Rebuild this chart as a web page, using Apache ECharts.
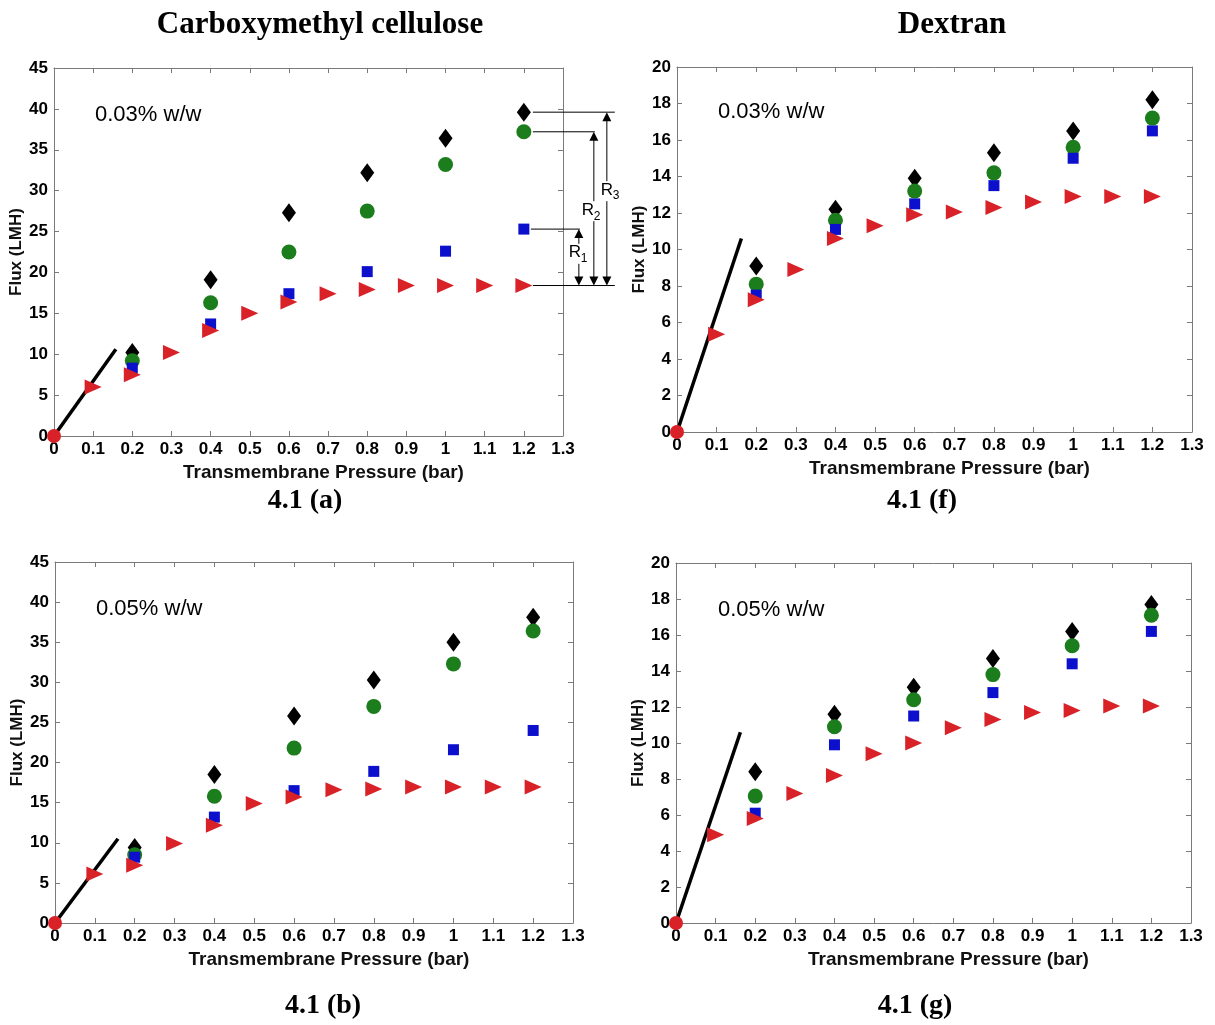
<!DOCTYPE html>
<html>
<head>
<meta charset="utf-8">
<script src="https://cdn.jsdelivr.net/npm/echarts@6/dist/echarts.min.js"></script>
<style>
html,body{margin:0;padding:0;background:#fff;}
#c{width:1215px;height:1025px;}
</style>
</head>
<body>
<div id="c"></div>
<script>
// ---------- DATA ----------
const pressureMain = [0.2, 0.4, 0.6, 0.8, 1.0, 1.2];
const pressureRed = [0.1, 0.2, 0.3, 0.4, 0.5, 0.6, 0.7, 0.8, 0.9, 1.0, 1.1, 1.2];

// 4.1 (a) Carboxymethyl cellulose 0.03% w/w
const aDiamond = [10.2, 19.1, 27.3, 32.2, 36.4, 39.6];
const aCircle = [9.2, 16.3, 22.5, 27.5, 33.2, 37.2];
const aSquare = [8.3, 13.7, 17.4, 20.1, 22.6, 25.3];
const aTriangle = [6.0, 7.5, 10.2, 12.9, 15.0, 16.4, 17.4, 17.9, 18.4, 18.4, 18.4, 18.4];
const aLine = [[0, 0], [0.158, 10.6]];

// 4.1 (f) Dextran 0.03% w/w
const fDiamond = [9.1, 12.2, 13.9, 15.3, 16.5, 18.2];
const fCircle = [8.1, 11.6, 13.2, 14.2, 15.6, 17.2];
const fSquare = [7.5, 11.1, 12.5, 13.5, 15.0, 16.5];
const fTriangle = [5.35, 7.25, 8.9, 10.6, 11.3, 11.9, 12.05, 12.3, 12.6, 12.9, 12.9, 12.9];
const fLine = [[0, 0], [0.1625, 10.6]];

// 4.1 (b) Carboxymethyl cellulose 0.05% w/w
const bDiamond = [9.4, 18.5, 25.8, 30.3, 35.0, 38.1];
const bCircle = [8.5, 15.8, 21.8, 27.0, 32.3, 36.4];
const bSquare = [8.2, 13.2, 16.5, 18.9, 21.6, 24.0];
const bTriangle = [6.1, 7.2, 9.9, 12.2, 14.9, 15.7, 16.6, 16.7, 16.95, 16.95, 16.95, 16.95];
const bLine = [[0, 0], [0.158, 10.5]];

// 4.1 (g) Dextran 0.05% w/w
const gDiamond = [8.4, 11.6, 13.1, 14.7, 16.2, 17.7];
const gCircle = [7.05, 10.9, 12.4, 13.8, 15.4, 17.1];
const gSquare = [6.1, 9.9, 11.5, 12.8, 14.4, 16.2];
const gTriangle = [4.9, 5.8, 7.2, 8.2, 9.4, 10.0, 10.85, 11.3, 11.7, 11.8, 12.05, 12.05];
const gLine = [[0, 0], [0.1625, 10.6]];

const origin = [[0, 0]];

// axis settings
const xRange = {min: 0, max: 1.3, interval: 0.1};
const yRangeCMC = {min: 0, max: 45, interval: 5};
const yRangeDex = {min: 0, max: 20, interval: 2};

const xAxisName = 'Transmembrane Pressure (bar)';
const yAxisName = 'Flux (LMH)';
const columnTitles = ['Carboxymethyl cellulose', 'Dextran'];
const panelCaptions = ['4.1 (a)', '4.1 (f)', '4.1 (b)', '4.1 (g)'];
const concLabels = ['0.03% w/w', '0.03% w/w', '0.05% w/w', '0.05% w/w'];
const rLabels = ['1', '2', '3'];

// ---------- STYLE / LAYOUT ----------
const C_BLACK = '#000000', C_GREEN = '#1b7d1b', C_BLUE = '#0c10cc', C_RED = '#d92128';
const AX_COL = '#7a7a7a';
const SANS = 'Liberation Sans, Arial, sans-serif';
const SERIF = 'Liberation Serif, Times New Roman, serif';

const panels = [
  {grid: {left: 54, top: 68, width: 509, height: 368}, y: yRangeCMC, d: aDiamond, c: aCircle, s: aSquare, t: aTriangle, l: aLine},
  {grid: {left: 677, top: 67, width: 515, height: 365}, y: yRangeDex, d: fDiamond, c: fCircle, s: fSquare, t: fTriangle, l: fLine},
  {grid: {left: 55, top: 562, width: 518, height: 361}, y: yRangeCMC, d: bDiamond, c: bCircle, s: bSquare, t: bTriangle, l: bLine},
  {grid: {left: 676, top: 563, width: 515, height: 360}, y: yRangeDex, d: gDiamond, c: gCircle, s: gSquare, t: gTriangle, l: gLine}
];

const grids = [], xAxes = [], yAxes = [], series = [];

function axisCommon() {
  return {
    axisLine: {show: true, onZero: false, lineStyle: {color: AX_COL, width: 1}},
    axisTick: {show: true, inside: true, length: 5, lineStyle: {color: AX_COL, width: 1}},
    splitLine: {show: false}
  };
}

panels.forEach((p, i) => {
  grids.push(Object.assign({containLabel: false}, p.grid));
  xAxes.push(Object.assign(axisCommon(), {
    type: 'value', gridIndex: i, position: 'bottom',
    min: xRange.min, max: xRange.max, interval: xRange.interval,
    axisLabel: {show: true, color: '#000', fontWeight: 'bold', fontSize: 17, fontFamily: SANS, margin: 5},
    name: xAxisName, nameLocation: 'middle', nameGap: 27,
    nameTextStyle: {color: '#111', fontWeight: 'bold', fontSize: 19, fontFamily: SANS, padding: [0, 0, 0, 30]}
  }));
  xAxes.push(Object.assign(axisCommon(), {
    type: 'value', gridIndex: i, position: 'top',
    min: xRange.min, max: xRange.max, interval: xRange.interval,
    axisLabel: {show: false}
  }));
  yAxes.push(Object.assign(axisCommon(), {
    type: 'value', gridIndex: i, position: 'left',
    min: p.y.min, max: p.y.max, interval: p.y.interval,
    axisLabel: {show: true, color: '#000', fontWeight: 'bold', fontSize: 17, fontFamily: SANS, margin: 6},
    name: yAxisName, nameLocation: 'middle', nameGap: 28, nameRotate: 90,
    nameTextStyle: {color: '#111', fontWeight: 'bold', fontSize: 17, fontFamily: SANS}
  }));
  yAxes.push(Object.assign(axisCommon(), {
    type: 'value', gridIndex: i, position: 'right',
    min: p.y.min, max: p.y.max, interval: p.y.interval,
    axisLabel: {show: false}
  }));

  const xi = i * 2, yi = i * 2;
  series.push({
    type: 'line', xAxisIndex: xi, yAxisIndex: yi, data: p.l, symbol: 'none',
    lineStyle: {color: '#000', width: 3.5}, z: 2, silent: true
  });
  series.push({
    type: 'scatter', xAxisIndex: xi, yAxisIndex: yi, z: 3,
    data: pressureMain.map((x, k) => [x, p.d[k]]),
    symbol: 'diamond', symbolSize: [14, 19], itemStyle: {color: C_BLACK, opacity: 1}
  });
  series.push({
    type: 'scatter', xAxisIndex: xi, yAxisIndex: yi, z: 4,
    data: pressureMain.map((x, k) => [x, p.c[k]]),
    symbol: 'circle', symbolSize: 15, itemStyle: {color: C_GREEN, opacity: 1}
  });
  series.push({
    type: 'scatter', xAxisIndex: xi, yAxisIndex: yi, z: 5,
    data: pressureMain.map((x, k) => [x, p.s[k]]),
    symbol: 'rect', symbolSize: 11, itemStyle: {color: C_BLUE, opacity: 1}
  });
  series.push({
    type: 'scatter', xAxisIndex: xi, yAxisIndex: yi, z: 6,
    data: pressureRed.map((x, k) => [x, p.t[k]]),
    symbol: 'triangle', symbolSize: [15, 17], symbolRotate: -90, itemStyle: {color: C_RED, opacity: 1}
  });
  series.push({
    type: 'scatter', xAxisIndex: xi, yAxisIndex: yi, z: 7,
    data: origin, symbol: 'circle', symbolSize: 14, itemStyle: {color: C_RED, opacity: 1}
  });
});

// annotation (R1, R2, R3) for panel (a), built from the last data points
const annotLast = [[1.2, aDiamond[5], aCircle[5], aSquare[5], aTriangle[11]]];
series.push({
  type: 'custom', xAxisIndex: 0, yAxisIndex: 0, clip: false, z: 8, silent: true,
  data: annotLast,
  renderItem: function (params, api) {
    const pD = api.coord([api.value(0), api.value(1)]);
    const pG = api.coord([api.value(0), api.value(2)]);
    const pB = api.coord([api.value(0), api.value(3)]);
    const pR = api.coord([api.value(0), api.value(4)]);
    const x0 = pD[0];
    const st = {stroke: '#000', lineWidth: 1, fill: null};
    const ch = [];
    function hline(y, a, b) {
      ch.push({type: 'line', shape: {x1: x0 + a, y1: y, x2: x0 + b, y2: y}, style: st});
    }
    hline(pD[1], 9, 91);
    hline(pG[1], 9, 71);
    hline(pB[1], 7, 56);
    hline(pR[1], 9, 91);
    function arrow(dx, yTop, yBot, sub, frac, tdx) {
      const x = x0 + dx;
      ch.push({type: 'line', shape: {x1: x, y1: yTop + 8, x2: x, y2: yBot - 8}, style: st});
      ch.push({type: 'polygon', shape: {points: [[x, yTop], [x - 4.5, yTop + 9], [x + 4.5, yTop + 9]]}, style: {fill: '#000'}});
      ch.push({type: 'polygon', shape: {points: [[x, yBot], [x - 4.5, yBot - 9], [x + 4.5, yBot - 9]]}, style: {fill: '#000'}});
      const ty = yTop + (yBot - yTop) * frac;
      ch.push({type: 'rect', shape: {x: x + tdx - 8, y: ty - 9, width: 24, height: 20}, style: {fill: '#fff'}});
      ch.push({type: 'text', x: x + tdx, y: ty, style: {text: 'R', fill: '#000', font: '17px ' + SANS, align: 'center', verticalAlign: 'middle', textAlign: 'center', textVerticalAlign: 'middle'}});
      ch.push({type: 'text', x: x + tdx + 6, y: ty + 6, style: {text: sub, fill: '#000', font: '12px ' + SANS, align: 'left', verticalAlign: 'middle', textAlign: 'left', textVerticalAlign: 'middle'}});
    }
    arrow(55, pB[1], pR[1], rLabels[0], 0.42, -4);
    arrow(70, pG[1], pR[1], rLabels[1], 0.51, -6);
    arrow(83, pD[1], pR[1], rLabels[2], 0.45, 0);
    return {type: 'group', children: ch};
  }
});

// texts
function txt(x, y, text, font, align) {
  return {type: 'text', x: x, y: y, silent: true,
    style: {text: text, fill: '#000', font: font, align: align || 'center', verticalAlign: 'middle',
      textAlign: align || 'center', textVerticalAlign: 'middle'}};
}
const graphics = [
  txt(320, 25, columnTitles[0], 'bold 31px ' + SERIF),
  txt(952, 25, columnTitles[1], 'bold 31px ' + SERIF),
  txt(305, 501, panelCaptions[0], 'bold 28px ' + SERIF),
  txt(922, 501, panelCaptions[1], 'bold 28px ' + SERIF),
  txt(323, 1006, panelCaptions[2], 'bold 28px ' + SERIF),
  txt(915, 1006, panelCaptions[3], 'bold 28px ' + SERIF),
  txt(95, 115, concLabels[0], '22px ' + SANS, 'left'),
  txt(718, 112, concLabels[1], '22px ' + SANS, 'left'),
  txt(96, 609, concLabels[2], '22px ' + SANS, 'left'),
  txt(718, 610, concLabels[3], '22px ' + SANS, 'left')
];

const chart = echarts.init(document.getElementById('c'), null, {renderer: 'canvas'});
chart.setOption({
  animation: false,
  backgroundColor: '#fff',
  grid: grids,
  xAxis: xAxes,
  yAxis: yAxes,
  series: series,
  graphic: graphics
});
</script>
</body>
</html>
